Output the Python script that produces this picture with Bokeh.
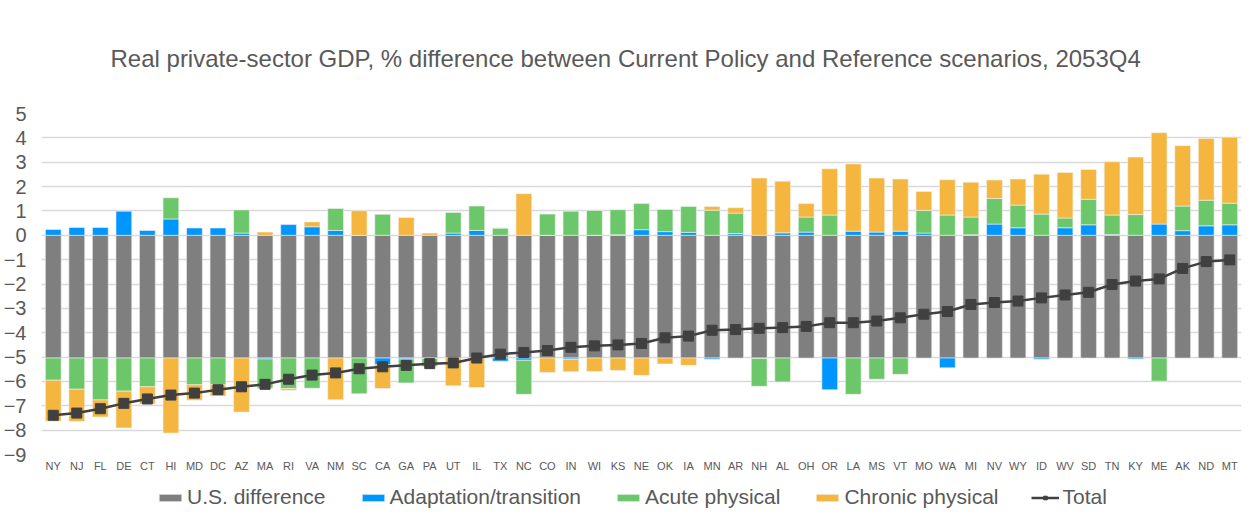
from bokeh.plotting import figure
from bokeh.layouts import column
from bokeh.models import FactorRange, Legend, LegendItem, ColumnDataSource, FixedTicker
from bokeh.embed import file_html
from bokeh.resources import INLINE

states = ["NY","NJ","FL","DE","CT","HI","MD","DC","AZ","MA","RI","VA","NM","SC","CA","GA","PA","UT","IL","TX",
          "NC","CO","IN","WI","KS","NE","OK","IA","MN","AR","NH","AL","OH","OR","LA","MS","VT","MO","WA","MI",
          "NV","WY","ID","WV","SD","TN","KY","ME","AK","ND","MT"]

us_difference = [-5.04, -5.04, -5.04, -5.04, -5.04, -5.04, -5.04, -5.04, -5.04, -5.04,
                 -5.04, -5.04, -5.04, -5.04, -5.04, -5.04, -5.04, -5.04, -5.04, -5.04,
                 -5.04, -5.04, -5.04, -5.04, -5.04, -5.04, -5.04, -5.04, -5.04, -5.04,
                 -5.04, -5.04, -5.04, -5.04, -5.04, -5.04, -5.04, -5.04, -5.04, -5.04,
                 -5.04, -5.04, -5.04, -5.04, -5.04, -5.04, -5.04, -5.04, -5.04, -5.04, -5.04]

adaptation = [0.24, 0.32, 0.32, 0.99, 0.20, 0.67, 0.30, 0.30, 0.09, -0.04,
              0.44, 0.35, 0.20, 0.00, -0.28, -0.04, -0.02, 0.09, 0.20, -0.13,
              -0.09, 0.00, -0.05, 0.00, 0.02, 0.23, 0.15, 0.12, -0.05, 0.07,
              -0.02, 0.10, 0.13, -1.30, 0.17, 0.13, 0.17, 0.09, -0.40, 0.02,
              0.46, 0.31, -0.05, 0.31, 0.43, 0.03, -0.04, 0.46, 0.19, 0.39, 0.43]

acute = [-0.91, -1.28, -1.72, -1.36, -1.18, 0.87, -1.10, -1.10, 0.95, -1.20,
         -1.25, -1.24, 0.90, -1.47, 0.86, -0.98, -0.32, 0.85, 1.00, 0.30,
         -1.40, 0.87, 0.99, 1.02, 1.03, 1.07, 0.91, 1.06, 1.03, 0.84,
         -1.14, -0.98, 0.62, 0.83, -1.49, -0.87, -0.67, 0.93, 0.83, 0.73,
         1.05, 0.93, 0.87, 0.40, 1.05, 0.80, 0.85, -0.95, 1.01, 1.05, 0.89]

chronic = [-1.68, -1.32, -0.70, -1.51, -0.71, -3.08, -0.63, -0.46, -2.22, 0.13,
           -0.07, 0.20, -1.71, 1.01, -0.97, 0.73, 0.09, -1.14, -1.21, 0.00,
           1.71, -0.59, -0.51, -0.55, -0.51, -0.71, -0.24, -0.30, 0.15, 0.22,
           2.35, 2.12, 0.55, 1.90, 2.76, 2.22, 2.14, 0.78, 1.45, 1.43,
           0.76, 1.07, 1.64, 1.87, 1.22, 2.19, 2.36, 3.75, 2.48, 2.53, 2.71]

total = [-7.39, -7.30, -7.12, -6.90, -6.72, -6.56, -6.48, -6.34, -6.22, -6.12,
         -5.91, -5.74, -5.65, -5.48, -5.40, -5.34, -5.27, -5.24, -5.04, -4.88,
         -4.81, -4.73, -4.60, -4.54, -4.50, -4.44, -4.21, -4.14, -3.90, -3.87,
         -3.82, -3.79, -3.74, -3.59, -3.59, -3.52, -3.39, -3.24, -3.13, -2.84,
         -2.76, -2.70, -2.57, -2.45, -2.34, -2.02, -1.88, -1.79, -1.36, -1.08, -1.01]

series_names = ["U.S. difference", "Adaptation/transition", "Acute physical", "Chronic physical", "Total"]
colors = ["#7F7F7F", "#0096FF", "#6CC66A", "#F4B63F", "#404040"]
TXT = "#595959"
FONT = "Liberation Sans"
W = 0.67

# ---- build data sources (stacking positives from 0, negatives below U.S. difference)
sources = [ColumnDataSource(dict(x=states, top=[0.0] * len(states), bottom=us_difference))]
pos = [0.0] * len(states)
neg = list(us_difference)
for vals in [adaptation, acute, chronic]:
    bots, tops = [], []
    for i, v in enumerate(vals):
        if v >= 0:
            bots.append(pos[i]); tops.append(pos[i] + v); pos[i] += v
        else:
            tops.append(neg[i]); bots.append(neg[i] + v); neg[i] += v
    sources.append(ColumnDataSource(dict(x=states, top=tops, bottom=bots)))
src_t = ColumnDataSource(dict(x=states, y=total))


def draw(fig):
    bars = []
    for src, col, lc in zip(sources, colors[:4], ["#E6E6E6", "#F2F2F2", "#F2F2F2", "#F2F2F2"]):
        bars.append(fig.vbar(x="x", top="top", bottom="bottom", width=W, source=src,
                             fill_color=col, line_color=lc, line_width=0.6))
    ln = fig.line(x="x", y="y", source=src_t, line_color=colors[4], line_width=2.5)
    pt = fig.scatter(x="x", y="y", source=src_t, marker="square", size=10,
                     fill_color=colors[4], line_color=colors[4])
    return bars, ln, pt


# ---- main chart
p = figure(x_range=FactorRange(*states, range_padding=0), y_range=(-9, 5),
           width=1243, height=474, output_backend="svg", toolbar_location=None,
           min_border_left=39, min_border_right=2, min_border_top=109, min_border_bottom=18)
p.outline_line_color = None
p.background_fill_color = "white"
p.border_fill_color = "white"

p.title.text = "Real private-sector GDP, % difference between Current Policy and Reference scenarios, 2053Q4"
p.title.align = "left"
p.title.offset = 69
p.title.standoff = 84
p.title.text_font = FONT
p.title.text_font_size = "24px"
p.title.text_font_style = "normal"
p.title.text_color = TXT

draw(p)

p.yaxis.ticker = FixedTicker(ticks=list(range(-9, 6)))
p.yaxis.major_label_text_font = FONT
p.yaxis.major_label_text_font_size = "20px"
p.yaxis.major_label_text_color = TXT
p.yaxis.axis_line_color = None
p.yaxis.major_tick_line_color = None
p.yaxis.minor_tick_line_color = None
p.yaxis.major_tick_out = 0
p.yaxis.major_label_standoff = 15

p.xaxis.major_label_text_font = FONT
p.xaxis.major_label_text_font_size = "11px"
p.xaxis.major_label_text_color = TXT
p.xaxis.axis_line_color = None
p.xaxis.major_tick_line_color = None
p.xaxis.major_tick_out = 0
p.xaxis.major_label_standoff = 5

p.xgrid.grid_line_color = None
p.ygrid.grid_line_color = "#D9D9D9"
p.ygrid.grid_line_width = 1.5

# ---- legend strip: same series drawn again, but the view window is outside the data,
# so only the legend keys show
lg = figure(x_range=FactorRange(*states, range_padding=0), y_range=(100, 101),
            width=1243, height=35, output_backend="svg", toolbar_location=None,
            x_axis_location=None, y_axis_location=None, min_border=0)
lg.grid.visible = False
lg.outline_line_color = None
lg.background_fill_color = "white"
lg.border_fill_color = "white"
kbars, kln, kpt = draw(lg)

legend = Legend(items=[
    LegendItem(label=series_names[0], renderers=[kbars[0]]),
    LegendItem(label=series_names[1], renderers=[kbars[1]]),
    LegendItem(label=series_names[2], renderers=[kbars[2]]),
    LegendItem(label=series_names[3], renderers=[kbars[3]]),
    LegendItem(label=series_names[4], renderers=[kln, kpt]),
], orientation="horizontal", location=(115, 0))
legend.label_text_font = FONT
legend.label_text_font_size = "21px"
legend.label_text_line_height = 1.0
legend.label_text_color = TXT
legend.glyph_width = 28
legend.glyph_height = 9
legend.spacing = 33
legend.label_standoff = 3
legend.padding = 0
legend.margin = 0
legend.border_line_color = None
legend.background_fill_alpha = 0
lg.add_layout(legend)

open("out.html", "w").write(file_html(column(p, lg, spacing=0), INLINE))
